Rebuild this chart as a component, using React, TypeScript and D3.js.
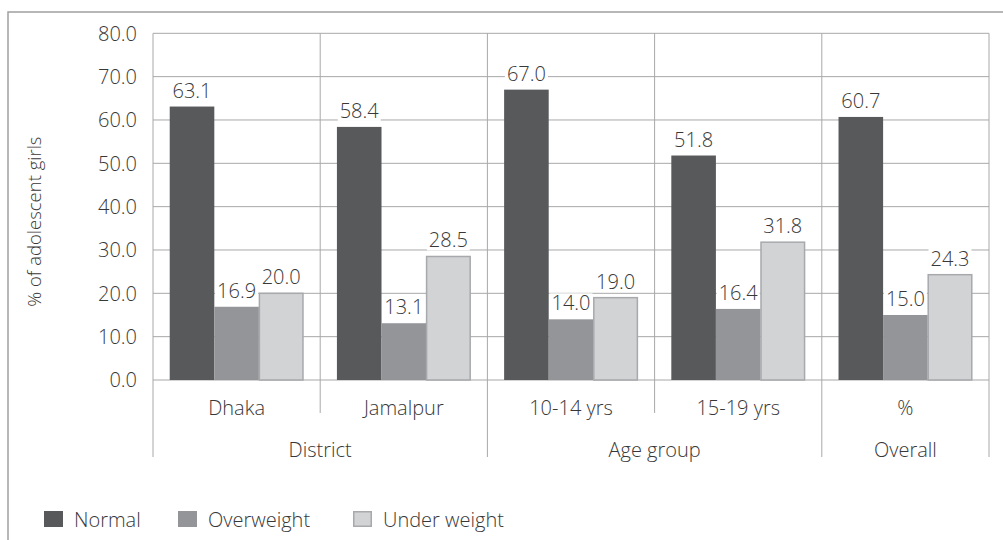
import React from "react";
import * as d3 from "d3";

const categories = ["Dhaka", "Jamalpur", "10-14 yrs", "15-19 yrs", "%"];
const groups = [
  { name: "District", span: 2 },
  { name: "Age group", span: 2 },
  { name: "Overall", span: 1 },
];
const seriesNames = ["Normal", "Overweight", "Under weight"];
const normal = [63.1, 58.4, 67.0, 51.8, 60.7];
const overweight = [16.9, 13.1, 14.0, 16.4, 15.0];
const underweight = [20.0, 28.5, 19.0, 31.8, 24.3];
const yTicks = [0, 10, 20, 30, 40, 50, 60, 70, 80];
const yTitle = "% of adolescent girls";

const fills = ["#58595b", "#939598", "#d1d3d4"];
const strokes = ["none", "none", "#a7a9ac"];
const FONT = "'Open Sans', 'Liberation Sans', Arial, sans-serif";
const TEXT = "#383838";
const GRID = "#a8a8a8";

export default function App() {
  const W = 1003, H = 540;
  const left = 153, right = 989, top = 33.3, bottom = 380;
  const x = d3.scaleBand<string>().domain(categories).range([left, right]).padding(0);
  const cw = x.bandwidth();
  const xs = d3.scaleBand<string>().domain(seriesNames).range([cw * 0.1, cw * 0.9]).padding(0);
  const y = d3.scaleLinear().domain([0, 80]).range([bottom, top]);
  const series = [normal, overweight, underweight];

  const groupBounds: { name: string; x0: number; x1: number }[] = [];
  let idx = 0;
  groups.forEach((g) => {
    const x0 = x(categories[idx])!;
    const x1 = x(categories[idx + g.span - 1])! + cw;
    groupBounds.push({ name: g.name, x0, x1 });
    idx += g.span;
  });
  const groupEdges = new Set<number>();
  groupBounds.forEach((g) => { groupEdges.add(Math.round(g.x0)); groupEdges.add(Math.round(g.x1)); });
  const edges = [...categories.map((c) => x(c)!), right];

  const fmt = d3.format(".1f");
  const fs = 20;

  return (
    <svg width={W} height={H} style={{ display: "block", position: "absolute", left: 0, top: 0 }} fontFamily={FONT}>
      <rect x={0} y={0} width={W} height={H} fill="#fff" />
      <rect x={8} y={12} width={1010} height={540} fill="none" stroke="#a0a0a0" strokeWidth={1.5} />
      {yTicks.map((t) => (
        <line key={"g" + t} x1={left} x2={right} y1={y(t)} y2={y(t)} stroke={GRID} strokeWidth={1} />
      ))}
      {edges.map((e, i) => (
        <line key={"v" + i} x1={e} x2={e} y1={top}
          y2={groupEdges.has(Math.round(e)) ? 457 : 413} stroke={GRID} strokeWidth={1} />
      ))}
      {yTicks.map((t) => (
        <text key={"t" + t} x={137} y={y(t)} dy="0.36em" textAnchor="end" fontSize={fs} fontWeight={300} fill={TEXT}>{fmt(t)}</text>
      ))}
      <text transform={`translate(41,${(top + bottom) / 2 + 15}) rotate(-90)`} textAnchor="middle" fontSize={18.5} fontWeight={300} fill={TEXT}>{yTitle}</text>
      {categories.map((c, ci) => (
        <g key={"c" + c} transform={`translate(${x(c)},0)`}>
          {series.map((s, si) => (
            <rect key={si} x={xs(seriesNames[si])! + (si === 2 ? 0.5 : 0)} y={y(s[ci])}
              width={xs.bandwidth() - (si === 2 ? 1 : 0)} height={y(0) - y(s[ci])}
              fill={fills[si]} stroke={strokes[si]} strokeWidth={1.5} />
          ))}
        </g>
      ))}
      {categories.map((c, ci) => (
        <g key={"l" + c} transform={`translate(${x(c)},0)`}>
          {series.map((s, si) => {
            const cx = xs(seriesNames[si])! + xs.bandwidth() / 2;
            const by = y(s[ci]) - 9;
            return (
              <g key={si}>
                <rect x={cx - 21.5} y={by - 17} width={43} height={20} fill="#fff" />
                <text x={cx} y={by} textAnchor="middle" fontSize={fs} fontWeight={300} fill={TEXT}>{fmt(s[ci])}</text>
              </g>
            );
          })}
        </g>
      ))}
      {categories.map((c) => (
        <text key={"cl" + c} x={x(c)! + cw / 2} y={415} textAnchor="middle" fontSize={fs} fontWeight={300} fill={TEXT}>{c}</text>
      ))}
      {groupBounds.map((g) => (
        <text key={"gl" + g.name} x={(g.x0 + g.x1) / 2} y={457} textAnchor="middle" fontSize={fs} fontWeight={300} fill={TEXT}>{g.name}</text>
      ))}
      {seriesNames.map((n, i) => {
        const lx = [44, 178, 353][i];
        return (
          <g key={"lg" + n}>
            <rect x={lx + (i === 2 ? 0.75 : 0)} y={511 + (i === 2 ? 0.75 : 0)} width={19 - (i === 2 ? 1.5 : 0)} height={16 - (i === 2 ? 1.5 : 0)}
              fill={fills[i]} stroke={strokes[i]} strokeWidth={1.5} />
            <text x={lx + 30} y={527} fontSize={fs} fontWeight={300} fill={TEXT}>{n}</text>
          </g>
        );
      })}
    </svg>
  );
}
